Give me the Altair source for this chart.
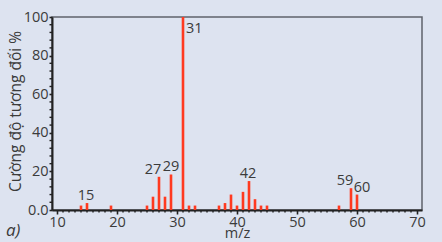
import altair as alt
import pandas as pd

mz = [14, 15, 19, 25, 26, 27, 28, 29, 31, 32, 33, 37, 38, 39, 40, 41, 42, 43, 44, 45, 57, 59, 60]
intensity = [2.3, 3.6, 2.3, 2.3, 6.9, 17.2, 6.9, 18.4, 100, 2.3, 2.3, 2.3, 3.6, 8.0, 2.3, 9.4, 15.0, 5.6, 2.3, 2.3, 2.3, 11.3, 8.0]
labeled = [15, 27, 29, 31, 42, 59, 60]
x_major = [10, 20, 30, 40, 50, 60, 70]
y_major = [0, 20, 40, 60, 80, 100]
x_minor = [v for v in range(10, 71) if v % 10 != 0]
y_minor = [v for v in range(0, 101, 4) if v % 20 != 0]

df = pd.DataFrame({"mz": mz, "intensity": intensity})
df["lbl"] = df["mz"].astype(str)

W, H = 370, 193
FONT = "Open Sans"
TXT = "#3b3b3b"
RED = "#ff3a20"

xs = alt.Scale(domain=[10, 70], nice=False, zero=False)
ys = alt.Scale(domain=[0, 100], nice=False)

x_axis = alt.Axis(
    values=x_major, title="m/z", tickSize=4, tickWidth=1.6, tickColor="#222",
    domainColor="#222", domainWidth=2, labelPadding=1, labelFontSize=14.5,
    labelFont=FONT, labelColor=TXT, titleFont=FONT, titleFontSize=14.5,
    titleFontWeight="normal", titleColor=TXT, titlePadding=-2, grid=False,
    labelOverlap=False, labelFlush=False)
y_axis = alt.Axis(
    values=y_major, title="Cường độ tương đối %",
    labelExpr="datum.value == 0 ? '0.0' : datum.label",
    tickSize=3, tickWidth=1.6, tickColor="#222", domainColor="#222", domainWidth=2,
    labelPadding=1, labelFontSize=14.5, labelFont=FONT, labelColor=TXT,
    titleFont=FONT, titleFontSize=15.5, titleFontWeight="normal", titleColor=TXT,
    titleX=-37, titleY=94, titleBaseline="middle", grid=False,
    labelOverlap=False, labelFlush=False)

bars = alt.Chart(df).mark_bar(color=RED, size=2.6).encode(
    x=alt.X("mz:Q", scale=xs, axis=x_axis),
    y=alt.Y("intensity:Q", scale=ys, axis=y_axis),
)

xminor_df = pd.DataFrame({"v": x_minor})
yminor_df = pd.DataFrame({"v": y_minor})
xmin = alt.Chart(xminor_df).mark_rule(color="#222", strokeWidth=1.4).encode(
    x=alt.X("v:Q", scale=xs, axis=x_axis), y=alt.value(H), y2=alt.value(H + 2.5))
ymin = alt.Chart(yminor_df).mark_rule(color="#222", strokeWidth=1.4).encode(
    y=alt.Y("v:Q", scale=ys, axis=y_axis), x=alt.value(0), x2=alt.value(-2.5))


def labels(vals, dx, align="center", baseline="alphabetic", dy=-3):
    return alt.Chart(df).transform_filter(
        alt.FieldOneOfPredicate(field="mz", oneOf=vals)
    ).mark_text(font=FONT, fontSize=14.5, color=TXT, dx=dx, dy=dy, align=align,
                baseline=baseline).encode(
        x=alt.X("mz:Q", scale=xs, axis=x_axis),
        y=alt.Y("intensity:Q", scale=ys, axis=y_axis), text="lbl:N")


lab_c = labels([15, 42], -1)
lab_29 = labels([29], 0)
lab_l = labels([27, 59], -6)
lab_r = labels([60], 5)
lab_31 = labels([31], 3, align="left", baseline="top", dy=5)

tag = alt.Chart(df).transform_aggregate(n="count()").mark_text(
    font=FONT, fontSize=17, fontStyle="italic", color=TXT, align="left"
).encode(x=alt.value(-46), y=alt.value(214), text=alt.value("a)"))

chart = alt.layer(bars, xmin, ymin, lab_c, lab_29, lab_l, lab_r, lab_31, tag).properties(
    width=W, height=H,
    autosize=alt.AutoSizeParams(type="none"),
    padding={"left": 52, "top": 17, "right": 20, "bottom": 32},
    background="#dde3f0",
).configure_view(stroke="#5f636b", strokeWidth=1.5)

chart.save("out.html", embed_options={"renderer": "svg", "actions": False})
